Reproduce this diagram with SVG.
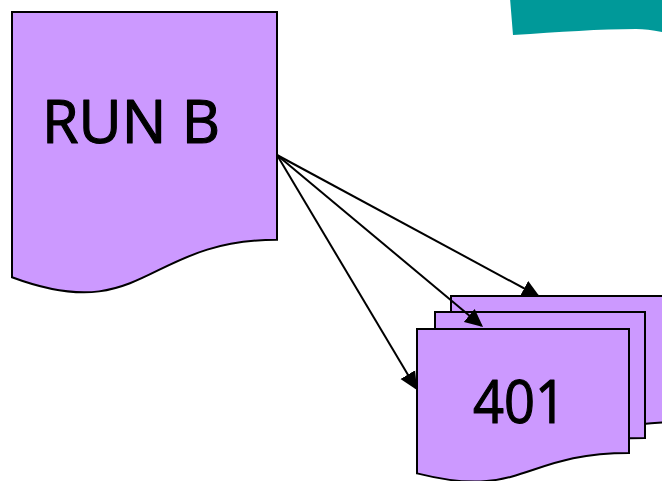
<svg xmlns="http://www.w3.org/2000/svg" width="662" height="481" viewBox="0 0 662 481">
  <style>
    .doc { fill: #CC99FF; stroke: #000000; stroke-width: 2; stroke-linejoin: miter; }
    .label { font-family: "Comic Sans MS", "Open Sans", "DejaVu Sans", sans-serif; font-size: 60px; font-weight: 400; fill: #000000; stroke: #000000; stroke-width: 1.2; stroke-linejoin: round; }
    .link { stroke: #000000; stroke-width: 2; fill: none; marker-end: url(#arrow); }
  </style>
  <defs>
    <marker id="arrow" markerUnits="userSpaceOnUse" markerWidth="18" markerHeight="18" viewBox="0 0 18 18" refX="16" refY="9" orient="auto">
      <path d="M0,0.5 L18,9 L0,17.5 Z" fill="#000000"/>
    </marker>
  </defs>

  <rect x="0" y="0" width="662" height="481" fill="#FFFFFF"/>

  <!-- source document -->
  <g id="run-b">
    <path class="doc" d="M12,12 L277,12 L277,239.8 C144.5,239.8 144.5,326.5 12,277.2 Z"/>
    <text class="label" x="42" y="143" textLength="178" lengthAdjust="spacingAndGlyphs">RUN B</text>
  </g>

  <!-- stacked output documents, back to front -->
  <g id="doc-back">
    <path class="doc" d="M451,296 L681,296 L681,422 C566,422 566,470 451,442.7 Z"/>
  </g>
  <g id="doc-middle">
    <path class="doc" d="M435,312 L645,312 L645,438 C540,438 540,486 435,458.7 Z"/>
  </g>
  <g id="doc-front">
    <path class="doc" d="M417,329 L629,329 L629,453 C523,453 523,500.2 417,473.4 Z"/>
    <text class="label" x="473" y="423" textLength="93" lengthAdjust="spacingAndGlyphs">401</text>
  </g>

  <!-- connectors -->
  <g id="connectors">
    <line class="link" x1="277" y1="155" x2="538.2" y2="296"/>
    <line class="link" x1="277" y1="155" x2="481.5" y2="325.7"/>
    <line class="link" x1="277" y1="155" x2="416" y2="388.3"/>
  </g>

  <!-- teal banner at the top right -->
  <g id="banner">
    <path d="M510,-2 L662,-2 L662,32 C652,30 644,29 636,29 C600,29 560,32 513,35 Z" fill="#009999"/>
  </g>
</svg>
